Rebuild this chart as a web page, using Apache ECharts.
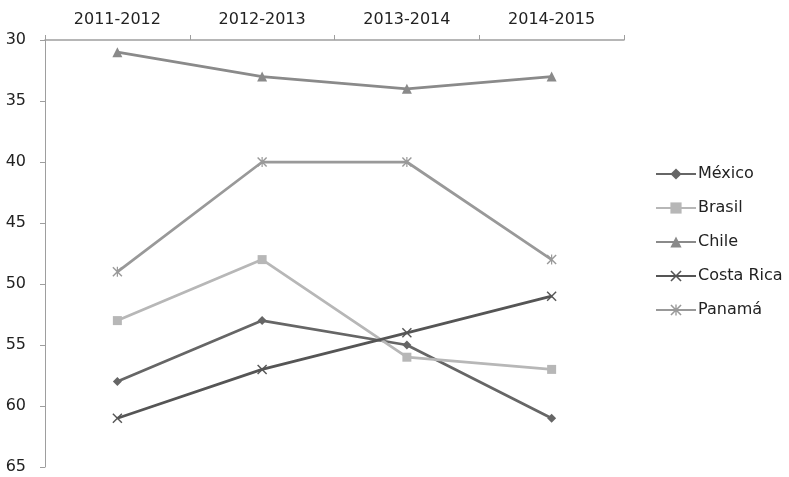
<!DOCTYPE html>
<html>
<head>
<meta charset="utf-8">
<script src="https://cdn.jsdelivr.net/npm/echarts@6/dist/echarts.min.js"></script>
<style>html,body{margin:0;padding:0;background:#fff;}#c{width:789px;height:477px;}</style>
</head>
<body>
<div id="c"></div>
<script>
const categories = ['2011-2012', '2012-2013', '2013-2014', '2014-2015'];
const mexico = [58, 53, 55, 61];
const brasil = [53, 48, 56, 57];
const chile = [31, 33, 34, 33];
const costaRica = [61, 57, 54, 51];
const panama = [49, 40, 40, 48];
const yTicks = { min: 30, max: 65, interval: 5 };

const crossPath = 'path://M0,1L1,0L5,4L9,0L10,1L6,5L10,9L9,10L5,6L1,10L0,9L4,5Z';
const starPath = 'path://M0,1L1,0L5,4L9,0L10,1L6,5L10,9L9,10L5,6L1,10L0,9L4,5Z M4.4,0L5.6,0L5.6,10L4.4,10Z';

function mk(name, data, color, symbol, size) {
  return {
    name, type: 'line', data, symbol, symbolSize: size,
    lineStyle: { color, width: 2.75 },
    itemStyle: { color },
    emphasis: { disabled: true },
    animation: false
  };
}

const FONT = 'DejaVu Sans';
const chart = echarts.init(document.getElementById('c'));
chart.setOption({
  animation: false,
  textStyle: { fontFamily: FONT },
  grid: { left: 45, right: 165, top: 40, bottom: 10, containLabel: false },
  xAxis: {
    type: 'category', data: categories, position: 'top', boundaryGap: true,
    axisLine: { lineStyle: { color: '#9e9e9e', width: 1.5 } },
    axisTick: { show: true, interval: 0, length: 5, inside: false, lineStyle: { color: '#9e9e9e' } },
    axisLabel: { color: '#222', fontSize: 16, margin: 12, fontFamily: FONT }
  },
  yAxis: {
    type: 'value', inverse: true, min: yTicks.min, max: yTicks.max, interval: yTicks.interval,
    axisLine: { show: true, lineStyle: { color: '#9e9e9e', width: 1 } },
    axisTick: { show: true, length: 5, lineStyle: { color: '#9e9e9e' } },
    splitLine: { show: false },
    axisLabel: { color: '#222', fontSize: 16, margin: 19, fontFamily: FONT }
  },
  legend: {
    orient: 'vertical', left: 650, top: 161, itemGap: 18, itemWidth: 40, itemHeight: 14,
    textStyle: { fontSize: 16, color: '#222', fontFamily: FONT, padding: [0, 0, 0, -3] },
    data: ['México', 'Brasil', 'Chile', 'Costa Rica', 'Panamá']
  },
  series: [
    mk('México', mexico, '#666666', 'diamond', 9),
    mk('Brasil', brasil, '#b7b7b7', 'rect', 9),
    mk('Chile', chile, '#8a8a8a', 'triangle', 10),
    mk('Costa Rica', costaRica, '#555555', crossPath, 10),
    mk('Panamá', panama, '#999999', starPath, 10)
  ]
});
</script>
</body>
</html>
